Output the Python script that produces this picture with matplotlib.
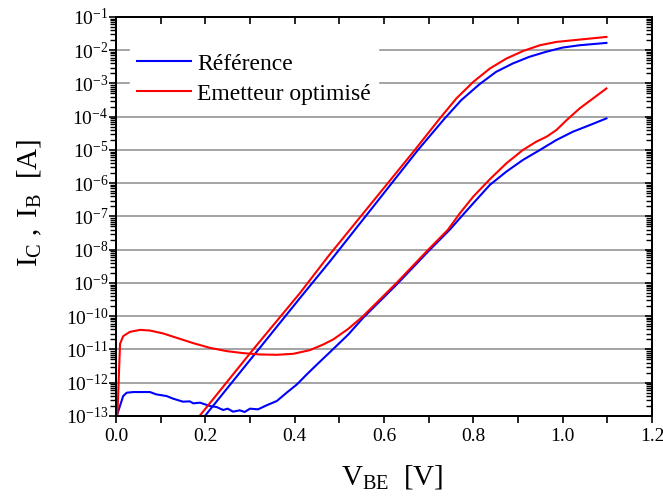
import numpy as np
import matplotlib
matplotlib.use("Agg")
import matplotlib.pyplot as plt
from matplotlib.ticker import MultipleLocator, NullFormatter, FixedLocator

plt.rcParams['font.family'] = ['Liberation Serif', 'DejaVu Serif']
plt.rcParams['mathtext.fontset'] = 'custom'
plt.rcParams['mathtext.rm'] = 'Liberation Serif'
plt.rcParams['mathtext.it'] = 'Liberation Serif:italic'
plt.rcParams['mathtext.default'] = 'regular'
plt.rcParams['axes.unicode_minus'] = False

# V_BE [V] and log10 of current [A]
v_ic_ref = [0.199, 0.412, 0.479, 0.676, 0.736, 0.773, 0.814, 0.851, 0.888, 0.925, 0.962, 1.0, 1.038, 1.098]
log_ic_ref = [-13.0, -9.45, -8.35, -5.0, -4.05, -3.5, -3.02, -2.65, -2.4, -2.2, -2.05, -1.92, -1.85, -1.78]

v_ic_opt = [0.187, 0.307, 0.412, 0.475, 0.669, 0.725, 0.762, 0.800, 0.837, 0.874, 0.912, 0.949, 0.986, 1.038, 1.098]
log_ic_opt = [-13.0, -11.0, -9.3, -8.2, -5.0, -4.05, -3.45, -2.95, -2.55, -2.25, -2.02, -1.85, -1.75, -1.68, -1.6]

v_ib_ref = [0.0015, 0.01, 0.016, 0.024, 0.039, 0.076, 0.09, 0.113, 0.128, 0.15, 0.165, 0.173, 0.188,
            0.21, 0.225, 0.24, 0.25, 0.262, 0.277, 0.288, 0.3, 0.318, 0.337, 0.36, 0.382, 0.405,
            0.427, 0.45, 0.479, 0.52, 0.553, 0.628, 0.699, 0.747, 0.770, 0.800, 0.837, 0.874,
            0.911, 0.949, 0.986, 1.023, 1.061, 1.098]
log_ib_ref = [-13.0, -12.65, -12.4, -12.3, -12.28, -12.28, -12.35, -12.4, -12.48, -12.57, -12.56, -12.62, -12.6,
              -12.7, -12.73, -12.82, -12.78, -12.87, -12.83, -12.88, -12.78, -12.8, -12.68, -12.55, -12.3, -12.05,
              -11.75, -11.45, -11.08, -10.55, -10.05, -9.05, -8.05, -7.4, -7.05, -6.6, -6.05, -5.65,
              -5.3, -5.0, -4.7, -4.45, -4.25, -4.05]

v_ib_opt = [0.003, 0.009, 0.016, 0.031, 0.054, 0.076, 0.106, 0.136, 0.173, 0.21, 0.248, 0.285, 0.322,
            0.36, 0.397, 0.434, 0.464, 0.486, 0.52, 0.553, 0.628, 0.699, 0.743, 0.770, 0.800, 0.837,
            0.874, 0.911, 0.941, 0.964, 0.986, 1.009, 1.038, 1.068, 1.098]
log_ib_opt = [-13.0, -10.83, -10.6, -10.47, -10.41, -10.43, -10.52, -10.65, -10.81, -10.95, -11.05, -11.11, -11.15,
              -11.16, -11.13, -11.02, -10.85, -10.7, -10.38, -10.0, -9.0, -8.0, -7.4, -6.9, -6.4, -5.88,
              -5.4, -5.0, -4.75, -4.6, -4.4, -4.1, -3.75, -3.45, -3.15]

decades = np.arange(-13, 0)
major_y = 10.0 ** decades
minor_y = np.array([m * 10.0 ** d for d in decades[:-1] for m in range(2, 10)])

fig = plt.figure(figsize=(6.63, 4.98), dpi=100)
ax = fig.add_axes([0.175, 0.1647, 0.8084, 0.8012])
ax.set_yscale('log')
ax.set_xlim(0, 1.2)
ax.set_ylim(1e-13, 1e-1)

# mirrored axes (ticks pointing inward on top and right)
axr = ax.twinx()
axr.set_yscale('log')
axr.set_ylim(1e-13, 1e-1)
axt = ax.twiny()
axt.set_xlim(0, 1.2)

for y in decades[1:-1]:
    ax.axhline(10.0 ** y, color='#8c8c8c', lw=1.1, zorder=1)

l1, = ax.plot(v_ic_ref, 10.0 ** np.array(log_ic_ref), color='#0000ff', lw=1.5, label='Référence', zorder=3)
ax.plot(v_ib_ref, 10.0 ** np.array(log_ib_ref), color='#0000ff', lw=1.5, zorder=3)
l2, = ax.plot(v_ic_opt, 10.0 ** np.array(log_ic_opt), color='#ff0000', lw=1.5, label='Emetteur optimisé', zorder=3)
ax.plot(v_ib_opt, 10.0 ** np.array(log_ib_opt), color='#ff0000', lw=1.5, zorder=3)

ax.xaxis.set_major_locator(MultipleLocator(0.2))
ax.xaxis.set_minor_locator(MultipleLocator(0.1))
ax.xaxis.set_major_formatter(matplotlib.ticker.FormatStrFormatter('%.1f'))
ax.yaxis.set_major_locator(FixedLocator(major_y))
ax.yaxis.set_minor_locator(FixedLocator(minor_y))
ax.yaxis.set_minor_formatter(NullFormatter())

ax.tick_params(axis='both', which='both', direction='out', top=False, right=False,
               labelsize=14, width=1.2, color='black', labelcolor='black')
ax.tick_params(axis='x', which='both', length=5, pad=4)
ax.tick_params(axis='y', which='major', length=5, pad=0.5)
ax.tick_params(axis='y', which='minor', length=4, width=1.0)

axt.xaxis.set_major_locator(MultipleLocator(0.1))
axt.tick_params(axis='x', direction='in', length=5, width=1.2, color='black', labeltop=False)

axr.yaxis.set_major_locator(FixedLocator(major_y))
axr.yaxis.set_minor_locator(FixedLocator(minor_y))
axr.yaxis.set_major_formatter(NullFormatter())
axr.yaxis.set_minor_formatter(NullFormatter())
axr.tick_params(axis='y', which='both', direction='in', color='black', labelright=False)
axr.tick_params(axis='y', which='major', length=5, width=1.2)
axr.tick_params(axis='y', which='minor', length=4, width=1.0)

for a in (ax, axr, axt):
    for s in a.spines.values():
        s.set_linewidth(1.4)
        s.set_color('black')

ax.set_xlabel(r'$V_{BE}\ \ [V]$', fontsize=21)
ax.xaxis.set_label_coords(0.515, -0.118)
ax.xaxis.label.set_va('top')
ax.set_ylabel(r'$I_C\ ,\ I_B\ \ [A]$', fontsize=21)
ax.yaxis.set_label_coords(-0.135, 0.535)

leg = ax.legend(handles=[l1, l2], loc='upper left', bbox_to_anchor=(0.0256, 0.927),
                fontsize=17, frameon=True, fancybox=False, framealpha=1,
                facecolor='white', edgecolor='white', handlelength=2.3,
                handletextpad=0.25, labelspacing=0.36, borderpad=0.3, borderaxespad=0)
leg.set_zorder(5)

fig.savefig('out.png', dpi=100)

# sanity check that the tick marks really got drawn
img = plt.imread('out.png')[:, :, :3].mean(axis=2)
h = img.shape[0]
bottom_row = img[h - 80 + 0:h - 77, 120:650].min(axis=0)   # just below the bottom spine
right_col = img[25:405, 646:649].min(axis=1)                # just inside the right spine
n_bottom = int((bottom_row < 0.5).sum())
n_right = int((right_col < 0.5).sum())
if n_bottom < 10 or n_right < 60:
    raise SystemExit('tick check: bottom dark px %d, right dark px %d, shape %s' % (n_bottom, n_right, img.shape))
